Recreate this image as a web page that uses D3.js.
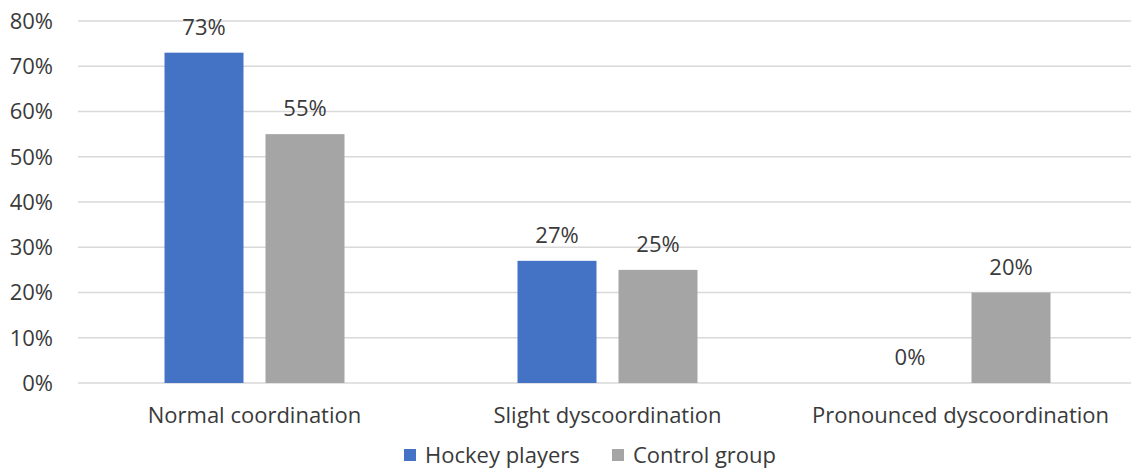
<!DOCTYPE html>
<html>
<head>
<meta charset="utf-8">
<script src="https://cdn.jsdelivr.net/npm/d3@7"></script>
<style>
  html, body { margin: 0; padding: 0; background: #fff; }
  svg { display: block; font-family: "Open Sans", "Noto Sans", sans-serif; }
</style>
</head>
<body>
<svg id="chart" width="1131" height="468"></svg>
<script>
const categories = ["Normal coordination", "Slight dyscoordination", "Pronounced dyscoordination"];
const seriesNames = ["Hockey players", "Control group"];
const hockeyPlayers = [73, 27, 0];
const controlGroup = [55, 25, 20];
const yTicks = [0, 10, 20, 30, 40, 50, 60, 70, 80];
const colors = ["#4472c4", "#a5a5a5"];

const W = 1131, H = 468;
const svg = d3.select("#chart");
const textColor = "#3a3a3a";
const fontSize = 22;

const x = d3.scaleBand().domain(categories).range([78, 1137]).paddingInner(0).paddingOuter(0);
const y = d3.scaleLinear().domain([0, 80]).range([383, 21]);

// Two bars per category, 79px wide with a 22px gap between them
const groupWidth = 180;
const xs = d3.scaleBand().domain(seriesNames).range([0, groupWidth]).paddingInner(22 / 101);

// Gridlines
svg.append("g").selectAll("line").data(yTicks).join("line")
  .attr("x1", 78).attr("x2", W)
  .attr("y1", d => y(d)).attr("y2", d => y(d))
  .attr("stroke", "#d9d9d9").attr("stroke-width", 1.5);

// Y tick labels
svg.append("g").selectAll("text").data(yTicks).join("text")
  .attr("x", 53).attr("y", d => y(d)).attr("dy", "0.36em")
  .attr("text-anchor", "end").attr("fill", textColor)
  .attr("font-size", fontSize).text(d => d + "%");

const rows = categories.map((c, i) => ({ cat: c, values: [hockeyPlayers[i], controlGroup[i]] }));

const groups = svg.append("g").selectAll("g").data(rows).join("g")
  .attr("transform", d => `translate(${x(d.cat) + (x.bandwidth() - groupWidth) / 2},0)`);

groups.selectAll("rect").data(d => d.values.map((v, j) => ({ v, s: seriesNames[j], j }))).join("rect")
  .attr("x", d => xs(d.s)).attr("width", xs.bandwidth())
  .attr("y", d => y(d.v)).attr("height", d => y(0) - y(d.v))
  .attr("fill", d => colors[d.j]);

// Value labels above each bar
groups.selectAll("text.val").data(d => d.values.map((v, j) => ({ v, s: seriesNames[j], j }))).join("text")
  .attr("class", "val")
  .attr("x", d => xs(d.s) + xs.bandwidth() / 2).attr("y", d => y(d.v) - 18)
  .attr("text-anchor", "middle").attr("fill", textColor).attr("font-size", fontSize)
  .text(d => d.v + "%");

// Category labels
svg.append("g").selectAll("text").data(categories).join("text")
  .attr("x", d => x(d) + x.bandwidth() / 2).attr("y", 423)
  .attr("text-anchor", "middle").attr("fill", textColor).attr("font-size", fontSize)
  .text(d => d);

// Legend
const legend = svg.append("g");
const legendX = [404, 612];
seriesNames.forEach((s, i) => {
  legend.append("rect").attr("x", legendX[i]).attr("y", 449).attr("width", 12).attr("height", 12).attr("fill", colors[i]);
  legend.append("text").attr("x", legendX[i] + 21).attr("y", 463)
    .attr("fill", textColor).attr("font-size", fontSize).text(s);
});
</script>
</body>
</html>
